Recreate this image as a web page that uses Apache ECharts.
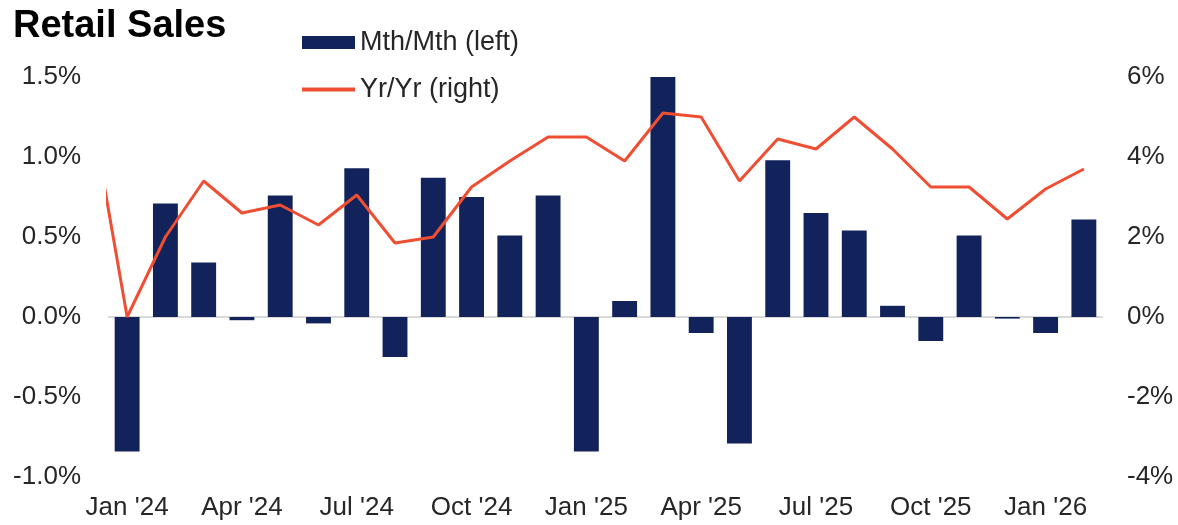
<!DOCTYPE html>
<html>
<head>
<meta charset="utf-8">
<script src="https://cdn.jsdelivr.net/npm/echarts@6/dist/echarts.min.js"></script>
<style>
  html, body { margin: 0; padding: 0; background: #fff; }
  #chart { width: 1178px; height: 525px; }
</style>
</head>
<body>
<div id="chart"></div>
<script>
// months shown on the category axis
const months = [
  "Jan '24", "Feb '24", "Mar '24", "Apr '24", "May '24", "Jun '24",
  "Jul '24", "Aug '24", "Sep '24", "Oct '24", "Nov '24", "Dec '24",
  "Jan '25", "Feb '25", "Mar '25", "Apr '25", "May '25", "Jun '25",
  "Jul '25", "Aug '25", "Sep '25", "Oct '25", "Nov '25", "Dec '25",
  "Jan '26", "Feb '26"
];
// Mth/Mth, % (left axis)
const momValues = [
  -0.84, 0.71, 0.34, -0.02, 0.76, -0.04,
  0.93, -0.25, 0.87, 0.75, 0.51, 0.76,
  -0.84, 0.10, 1.50, -0.10, -0.79, 0.98,
  0.65, 0.54, 0.07, -0.15, 0.51, -0.01,
  -0.10, 0.61
];
// Yr/Yr, % (right axis) - first value is Dec '23, clipped at the left edge
const yoyValues = [
  5.5,
  0.0, 2.0, 3.4, 2.6, 2.8, 2.3,
  3.05, 1.85, 2.0, 3.25, 3.9, 4.5,
  4.5, 3.9, 5.1, 5.0, 3.4, 4.45,
  4.2, 5.0, 4.2, 3.25, 3.25, 2.45,
  3.2, 3.7
];
const leftTicks = { min: -1.0, max: 1.5, interval: 0.5 };
const rightTicks = { min: -4, max: 6, interval: 2 };

const navy = '#12225A';
const red = '#F04E33';
const txt = '#262626';
const font = 'Liberation Sans';

let chart = echarts.init(document.getElementById('chart'), null, { renderer: 'canvas' });
let option = {
  animation: false,
  textStyle: { fontFamily: font },
  title: {
    text: 'Retail Sales',
    left: 8,
    top: 3,
    textStyle: { color: '#000', fontSize: 38, fontWeight: 'bold', fontFamily: font }
  },
  legend: {
    orient: 'vertical',
    left: 295,
    top: 24,
    itemWidth: 53,
    itemHeight: 13,
    itemGap: 20,
    textStyle: { color: txt, fontSize: 27, fontFamily: font },
    data: [
      { name: 'Mth/Mth (left)', icon: 'rect' },
      { name: 'Yr/Yr (right)', itemStyle: { opacity: 0 }, lineStyle: { width: 4 } }
    ]
  },
  grid: {
    left: 108,
    right: 75,
    top: 77,
    bottom: 48,
    containLabel: false
  },
  xAxis: [
    {
      type: 'category',
      data: months,
      position: 'bottom',
      axisLine: { show: false, onZero: false },
      axisTick: { show: false },
      axisLabel: {
        interval: 2,
        margin: 18,
        color: txt,
        fontSize: 26,
        fontFamily: font
      },
      splitLine: { show: false }
    },
    {
      type: 'value',
      min: -0.5,
      max: months.length - 0.5,
      show: false
    }
  ],
  yAxis: [
    {
      type: 'value',
      position: 'left',
      min: leftTicks.min,
      max: leftTicks.max,
      interval: leftTicks.interval,
      axisLine: { show: false },
      axisTick: { show: false },
      splitLine: { show: false },
      axisLabel: {
        margin: 27,
        color: txt,
        fontSize: 26,
        fontFamily: font,
        formatter: v => v.toFixed(1) + '%'
      }
    },
    {
      type: 'value',
      position: 'right',
      min: rightTicks.min,
      max: rightTicks.max,
      interval: rightTicks.interval,
      axisLine: { show: false },
      axisTick: { show: false },
      splitLine: { show: false },
      axisLabel: {
        margin: 24,
        color: txt,
        fontSize: 26,
        fontFamily: font,
        formatter: v => v + '%'
      }
    }
  ],
  series: [
    {
      name: 'Mth/Mth (left)',
      type: 'bar',
      xAxisIndex: 0,
      yAxisIndex: 0,
      barCategoryGap: '35%',
      itemStyle: { color: navy },
      data: momValues,
      markLine: {
        silent: true,
        symbol: 'none',
        label: { show: false },
        lineStyle: { color: '#D9D9D9', width: 2, type: 'solid' },
        data: [{ yAxis: 0 }],
        z: 1
      }
    },
    {
      name: 'Yr/Yr (right)',
      type: 'line',
      xAxisIndex: 1,
      yAxisIndex: 1,
      symbol: 'none',
      clip: true,
      lineStyle: { color: red, width: 3 },
      itemStyle: { color: red },
      data: yoyValues.map((v, i) => [i - 1, v]),
      z: 3
    }
  ]
};
chart.setOption(option);
</script>
</body>
</html>
